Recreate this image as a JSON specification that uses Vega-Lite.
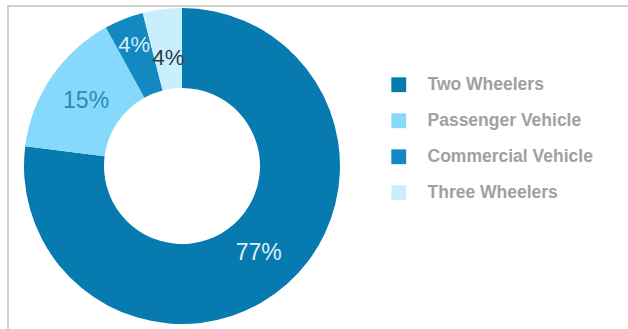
{
  "$schema": "https://vega.github.io/schema/vega-lite/v6.json",
  "width": 700,
  "height": 360,
  "autosize": "none",
  "padding": {"left": 8, "top": 6, "right": 0, "bottom": 0},
  "background": "white",
  "view": {"stroke": "#c4c4c4", "strokeWidth": 1.5, "fill": "white"},
  "data": {
    "values": [
      {"category": "Two Wheelers", "share": 0.77, "rank": 1},
      {"category": "Passenger Vehicle", "share": 0.15, "rank": 2},
      {"category": "Commercial Vehicle", "share": 0.04, "rank": 3},
      {"category": "Three Wheelers", "share": 0.04, "rank": 4}
    ]
  },
  "encoding": {
    "theta": {"field": "share", "type": "quantitative", "stack": true},
    "order": {"field": "rank", "type": "quantitative"}
  },
  "layer": [
    {
      "mark": {"type": "arc", "x": 174, "y": 160, "radius": 158, "radius2": 78},
      "encoding": {
        "color": {
          "field": "category",
          "type": "nominal",
          "scale": {
            "domain": ["Two Wheelers", "Passenger Vehicle", "Commercial Vehicle", "Three Wheelers"],
            "range": ["#077BB0", "#86D9FB", "#1488C0", "#C9EEFD"]
          },
          "legend": {
            "title": null,
            "orient": "none",
            "legendX": 382,
            "legendY": 70,
            "padding": 0,
            "symbolType": "square",
            "symbolSize": 220,
            "symbolStrokeWidth": 0,
            "labelFont": "Liberation Sans",
            "labelFontWeight": "bold",
            "labelFontSize": 17.5,
            "labelColor": "#a0a0a0",
            "labelOffset": 20,
            "rowPadding": 17,
            "labelLimit": 300
          }
        }
      }
    },
    {
      "mark": {"type": "text", "x": 174, "y": 160, "radius": 116, "font": "Liberation Sans", "fontSize": 23},
      "encoding": {
        "text": {
          "condition": {"test": "datum.rank <= 2", "field": "share", "type": "quantitative", "format": ".0%"},
          "value": ""
        },
        "color": {
          "condition": {"test": "datum.rank == 1", "value": "#dcf0fa"},
          "value": "#2a8ab8"
        }
      }
    },
    {
      "mark": {"type": "text", "x": 174, "y": 160, "radius": 130, "font": "Liberation Sans", "fontSize": 22, "color": "#d8eef8"},
      "encoding": {
        "text": {
          "condition": {"test": "datum.rank == 3", "field": "share", "type": "quantitative", "format": ".0%"},
          "value": ""
        }
      }
    },
    {
      "mark": {"type": "text", "x": 174, "y": 160, "radius": 109, "font": "Liberation Sans", "fontSize": 22, "color": "#2e3a46"},
      "encoding": {
        "text": {
          "condition": {"test": "datum.rank == 4", "field": "share", "type": "quantitative", "format": ".0%"},
          "value": ""
        }
      }
    }
  ]
}
